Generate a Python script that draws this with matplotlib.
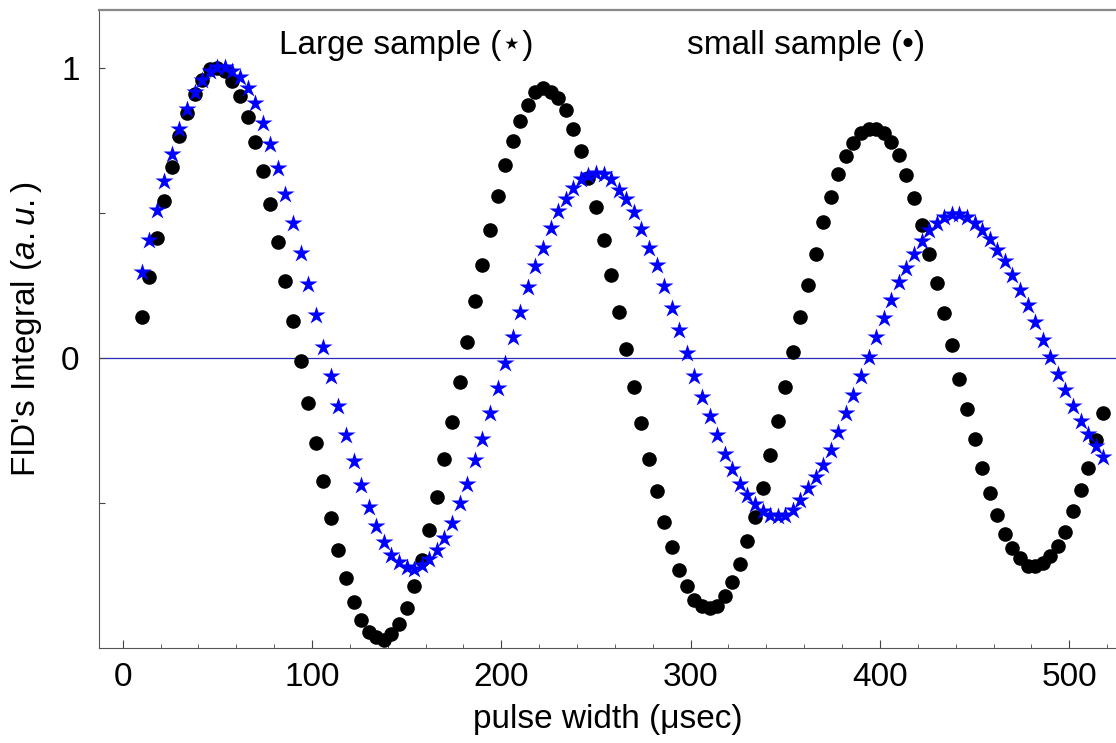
import numpy as np
import matplotlib
matplotlib.use('Agg')
import matplotlib.pyplot as plt
from matplotlib.ticker import MultipleLocator

# fonts: Arial-like text, DejaVu as fallback for the star sign
plt.rcParams['font.family'] = ['Liberation Sans', 'DejaVu Sans']
plt.rcParams['mathtext.fontset'] = 'custom'
plt.rcParams['mathtext.rm'] = 'Liberation Sans'
plt.rcParams['mathtext.it'] = 'Liberation Sans:italic'

# pulse width grid (usec): 10, 14, ... 518
pulse_width = np.arange(10, 519, 4)

# small sample (black dots)
small_sample = [
    0.14, 0.28, 0.415, 0.54, 0.66, 0.765, 0.845, 0.91, 0.96, 0.995,
    1.0, 0.99, 0.955, 0.905, 0.83, 0.745, 0.645, 0.53, 0.40, 0.265,
    0.127, -0.01, -0.157, -0.295, -0.426, -0.551, -0.662, -0.759, -0.840, -0.903,
    -0.944, -0.964, -0.973, -0.953, -0.916, -0.861, -0.787, -0.697, -0.593, -0.48,
    -0.349, -0.220, -0.082, 0.056, 0.195, 0.322, 0.443, 0.557, 0.665, 0.748,
    0.818, 0.874, 0.916, 0.930, 0.918, 0.895, 0.855, 0.791, 0.714, 0.62,
    0.520, 0.408, 0.287, 0.157, 0.031, -0.099, -0.224, -0.349, -0.459, -0.566,
    -0.653, -0.730, -0.785, -0.835, -0.855, -0.863, -0.855, -0.822, -0.772, -0.710,
    -0.633, -0.547, -0.447, -0.336, -0.218, -0.099, 0.022, 0.141, 0.253, 0.36,
    0.468, 0.556, 0.633, 0.697, 0.743, 0.775, 0.79, 0.79, 0.775, 0.745,
    0.70, 0.63, 0.55, 0.46, 0.36, 0.258, 0.155, 0.045, -0.074, -0.176,
    -0.280, -0.378, -0.467, -0.543, -0.607, -0.655, -0.690, -0.716, -0.719, -0.708,
    -0.682, -0.647, -0.599, -0.529, -0.454, -0.378, -0.284, -0.191,
]

# large sample (blue stars)
large_sample = [
    0.296, 0.408, 0.512, 0.612, 0.702, 0.791, 0.858, 0.916, 0.960, 0.991,
    1.005, 1.005, 0.991, 0.968, 0.930, 0.878, 0.810, 0.737, 0.656, 0.564,
    0.466, 0.361, 0.256, 0.149, 0.039, -0.062, -0.166, -0.266, -0.355, -0.439,
    -0.515, -0.581, -0.636, -0.678, -0.705, -0.722, -0.728, -0.715, -0.695, -0.662,
    -0.620, -0.570, -0.500, -0.434, -0.353, -0.278, -0.191, -0.102, -0.016, 0.074,
    0.160, 0.245, 0.318, 0.38, 0.449, 0.506, 0.549, 0.587, 0.616, 0.630,
    0.639, 0.633, 0.616, 0.581, 0.549, 0.503, 0.445, 0.38, 0.322, 0.247,
    0.172, 0.097, 0.018, -0.062, -0.134, -0.201, -0.266, -0.330, -0.382, -0.434,
    -0.474, -0.503, -0.527, -0.540, -0.545, -0.540, -0.525, -0.490, -0.447, -0.411,
    -0.370, -0.316, -0.255, -0.191, -0.128, -0.062, 0.004, 0.074, 0.137, 0.201,
    0.261, 0.310, 0.360, 0.405, 0.44, 0.465, 0.485, 0.495, 0.495, 0.485,
    0.465, 0.44, 0.41, 0.374, 0.333, 0.287, 0.235, 0.181, 0.124, 0.062,
    0.002, -0.055, -0.112, -0.165, -0.217, -0.262, -0.305, -0.342,
]

fig = plt.figure(figsize=(11.16, 7.43), dpi=100)
ax = fig.add_axes([0.0887, 0.128, 0.9113, 0.8585])

# zero line
ax.axhline(0, color='#2a2ab8', lw=0.9, zorder=1)

ax.plot(pulse_width, small_sample, 'o', color='black', ms=10.5, mec='none', zorder=2)
ax.plot(pulse_width, large_sample, '*', color='#0000ff', ms=13.5, mec='none', zorder=3)

ax.set_xlim(-12.5, 524.7)
ax.set_ylim(-1.0, 1.2)

# ticks
ax.xaxis.set_major_locator(MultipleLocator(100))
ax.xaxis.set_minor_locator(MultipleLocator(20))
ax.set_yticks([-0.5, 0, 0.5, 1])
ax.set_yticklabels(['', '0', '', '1'])
ax.tick_params(axis='both', which='both', direction='in', colors='#444444',
               labelcolor='black', labelsize=24)
ax.tick_params(axis='x', which='major', length=5.5, pad=10)
ax.tick_params(axis='x', which='minor', length=2.7)
ax.tick_params(axis='y', which='major', length=4.3, pad=14)
ax.tick_params(axis='y', which='minor', left=False)

# frame: gray top line, no right spine
ax.spines['right'].set_visible(False)
ax.spines['top'].set_color('#888888')
ax.spines['top'].set_linewidth(1.6)
ax.spines['left'].set_color('#555555')
ax.spines['bottom'].set_color('#555555')

ax.set_xlabel('pulse width (\u03bcsec)', fontsize=24, labelpad=8)
ax.set_ylabel("FID's Integral ($\\mathit{a.u.}$)", fontsize=24, labelpad=12)

ax.text(150, 1.048, 'Large sample (\u22c6)', fontsize=24, ha='center', va='baseline')
ax.text(361, 1.048, 'small sample (\u2022)', fontsize=24, ha='center', va='baseline')

plt.savefig('out.png', dpi=100)
plt.close()
